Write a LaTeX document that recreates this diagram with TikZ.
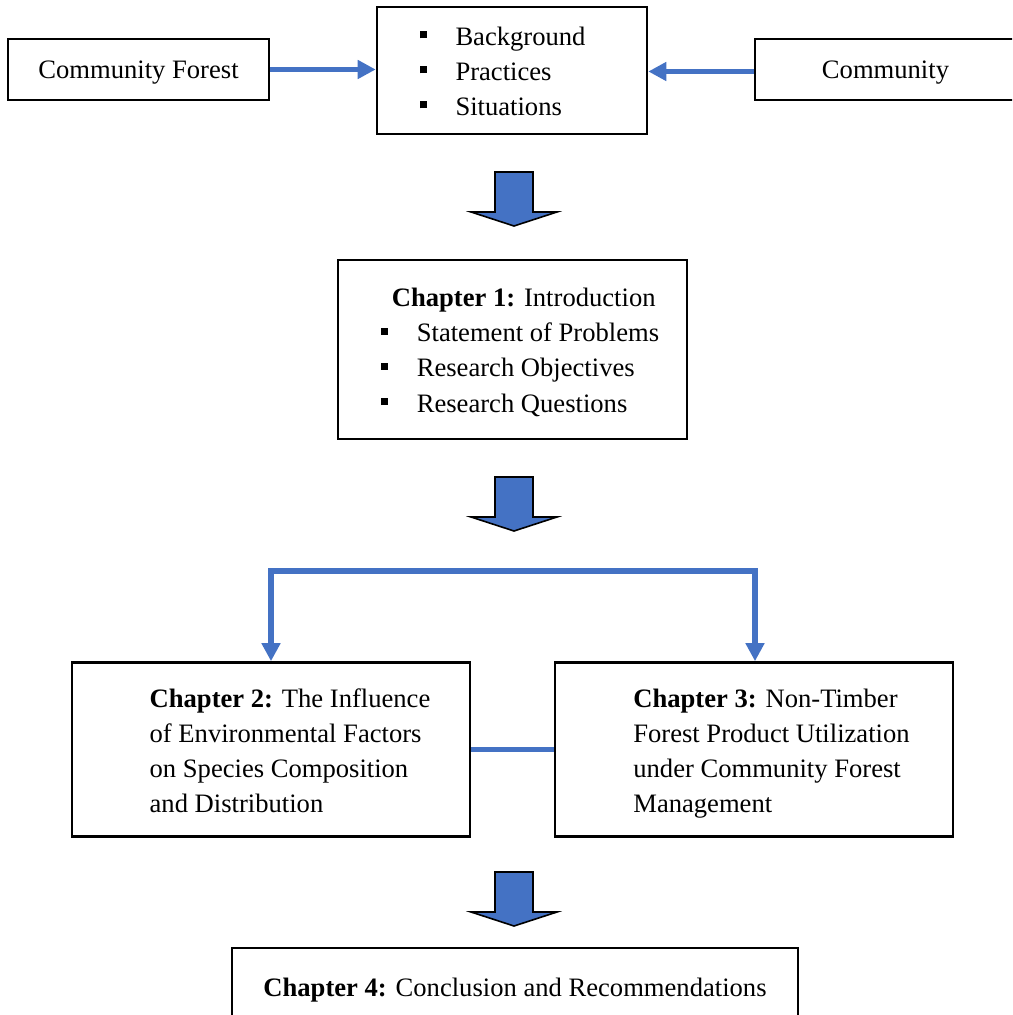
\documentclass[tikz,border=0pt]{standalone}
\usepackage{fontspec}
\setmainfont{Liberation Serif}
\usetikzlibrary{arrows.meta,calc}
\definecolor{cBlue}{RGB}{68,114,196}
\newcommand{\blt}{\makebox[18pt][l]{\rule[3.5pt]{3.5pt}{3.5pt}}}
\newcommand{\lowr}[1]{\raisebox{-1.5pt}[\height][\depth]{#1}}
\newcommand{\blockdown}[1]{%
  \draw[blk] (#1) ++(-19,0) -- ++(38,0) -- ++(0,40) -- ++(24,0)
    -- ++(-43,14) -- ++(-43,-14) -- ++(24,0) -- cycle;}

\begin{document}
\begin{tikzpicture}[
  x=0.5pt,y=-0.5pt,
  box/.style={draw,line width=1.3pt,inner sep=0pt,
              font=\fontsize{13.3}{17.5}\selectfont},
  link/.style={-{Triangle[length=9pt,width=9pt]},cBlue,line width=2.6pt},
  tie/.style={cBlue,line width=2.6pt},
  blk/.style={draw=black,line width=0.8pt,fill=cBlue},
]
\useasboundingbox (0,0) rectangle (1012,1015);
\clip (0,0) rectangle (1012,1015);
% inputs and their issues
\node[box,minimum width=130.5pt,minimum height=30.5pt] (cf) at (138.5,69.5) {\lowr{Community Forest}};
\node[box,minimum width=130.5pt,minimum height=30.5pt] (com) at (885.5,69.5) {\lowr{Community}};
\node[box,minimum width=135pt,minimum height=63.5pt] (issues) at (512,70.5)
  {\lowr{\begin{tabular}{@{}l@{\hspace{9.5pt}}}
   \blt Background\\ \blt Practices\\ \blt Situations
   \end{tabular}}};
\draw[link] (cf.east) -- (cf.east -| issues.west);
\draw[link] ([yshift=-1pt]com.west) -- ([yshift=-1pt]com.west -| issues.east);
% chapter 1
\coordinate (d1) at (514,172);
\blockdown{d1}
\node[box,minimum width=174.5pt,minimum height=89.5pt] (ch1) at (512.5,349.5)
  {\lowr{\begin{tabular}{@{\hspace{7.5pt}}l@{}}
   \hspace{5.5pt}\textbf{Chapter 1:} Introduction\\
   \blt Statement of Problems\\ \blt Research Objectives\\ \blt Research Questions
   \end{tabular}}};
% chapters 2 and 3
\coordinate (d2) at (514,477);
\blockdown{d2}
\node[box,minimum width=199pt,minimum height=87pt] (ch2) at (271,749.5)
  {\lowr{\begin{tabular}{@{\hspace{19pt}}l@{}}
   \textbf{Chapter 2:} The Influence\\ of Environmental Factors\\
   on Species Composition\\ and Distribution
   \end{tabular}}};
\node[box,minimum width=199pt,minimum height=87pt] (ch3) at (754,749.5)
  {\lowr{\begin{tabular}{@{\hspace{17.5pt}}l@{}}
   \textbf{Chapter 3:} Non-Timber\\ Forest Product Utilization\\
   under Community Forest\\ Management
   \end{tabular}}};
\coordinate (fork) at (514,571);
\draw[link] (fork) -| (ch2.north);
\draw[link] (fork) -| ([xshift=0.5pt]ch3.north);
\draw[tie] (ch2.east) -- (ch3.west);
% chapter 4
\coordinate (d3) at (514,872);
\blockdown{d3}
\node[box,minimum width=283pt,minimum height=39pt] (ch4) at (515,987)
  {\lowr{\textbf{Chapter 4:} Conclusion and Recommendations}};
\end{tikzpicture}
\end{document}
